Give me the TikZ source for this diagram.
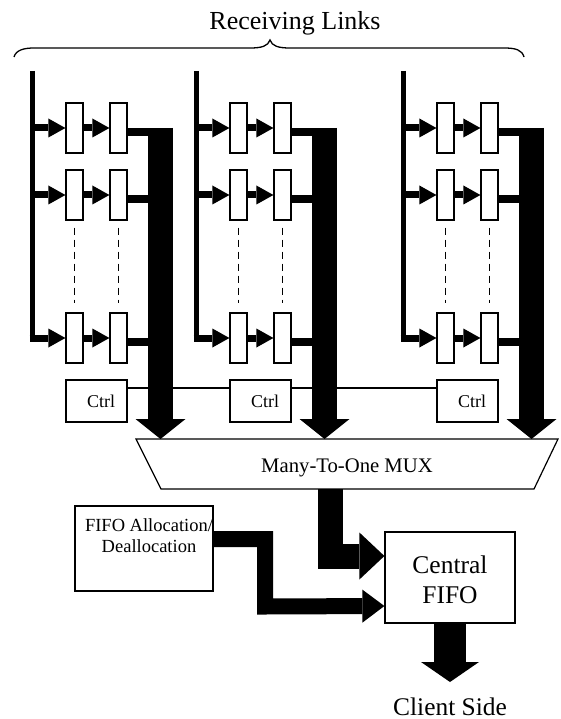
\documentclass[tikz,border=0pt]{standalone}
\usepackage{fontspec}
\setmainfont{Liberation Serif}
\usetikzlibrary{arrows.meta}
\begin{document}
\begin{tikzpicture}[x=1pt,y=-1pt,
  cell/.style={draw,line width=1.2pt,fill=white,minimum width=17pt,minimum height=50pt,inner sep=0pt},
  ctrlbox/.style={draw,line width=1.2pt,fill=white,minimum width=61pt,minimum height=42pt,inner sep=0pt,font=\fontsize{18}{20}\selectfont},
  plainbox/.style={draw,line width=1.2pt,fill=white,inner sep=0pt},
  busline/.style={line width=5pt},
  feed/.style={line width=7pt,-{Triangle[width=19pt,length=17pt,line width=0pt]}},
  tolink/.style={line width=8pt},
  thinline/.style={line width=1.2pt},
  dotsline/.style={line width=1.5pt,dash pattern=on 7pt off 5pt,shorten <=7pt,shorten >=9pt},
  fat/.style={line width=25pt,-{Triangle[width=50pt,length=20pt,line width=0pt]}},
  bigarrow/.style={line width=25pt,-{Triangle[width=47pt,length=25pt,line width=0pt]}},
  midarrow/.style={line width=16pt,-{Triangle[width=33pt,length=22pt,line width=0pt]}},
  outarrow/.style={line width=32pt,-{Triangle[width=58pt,length=20pt,line width=0pt]}},
  txt/.style={inner sep=0pt}
]
\useasboundingbox (0,0) rectangle (560,719);

% title and brace
\node[txt,font=\fontsize{26}{30}\selectfont,anchor=base] (title) at (295,30) {Receiving Links};
\draw[line width=1.3pt] (14,57) .. controls (16,50) and (24,48) .. (34,48) -- (250,48)
  .. controls (262,48) and (268,46) .. (270,40)
  .. controls (272,46) and (278,48) .. (290,48) -- (504,48)
  .. controls (516,48) and (522,50) .. (524,57);

% nodes of the three link groups
\foreach \o/\g in {0/a,164/b,371/c} {
  \node[cell] (c\g11) at (\o+74.5,128) {};
  \node[cell] (c\g12) at (\o+118.5,128) {};
  \node[cell] (c\g21) at (\o+74.5,195) {};
  \node[cell] (c\g22) at (\o+118.5,195) {};
  \node[cell] (c\g31) at (\o+74.5,338) {};
  \node[cell] (c\g32) at (\o+118.5,338) {};
  \node[ctrlbox] (ctrl\g) at (\o+96.5,401) {\hspace*{9pt}Ctrl};
  \coordinate (top\g) at (\o+32,71);
  \coordinate (bot\g) at (\o+32,341.5);
  \coordinate (cor\g) at (\o+29.5,338);
  \coordinate (bar\g) at (\o+160.5,128);
  \coordinate (j\g1) at (\o+160.5,132);
  \coordinate (j\g2) at (\o+160.5,199);
  \coordinate (j\g3) at (\o+160.5,342);
}

% ctrl chain
\draw[thinline] ([yshift=13pt]ctrla.east) -- ([yshift=13pt]ctrlb.west);
\draw[thinline] ([yshift=13pt]ctrlb.east) -- ([yshift=13pt]ctrlc.west);

% MUX
\coordinate (muxtl) at (136,439);
\coordinate (muxtr) at (558,439);
\coordinate (muxbr) at (534,489);
\coordinate (muxbl) at (161,489);
\draw[line width=1.2pt,fill=white] (muxtl) -- (muxtr) -- (muxbr) -- (muxbl) -- cycle;
\node[txt,font=\fontsize{20.7}{24}\selectfont,anchor=base] (mux) at (347,472) {Many-To-One MUX};

% connectors of the link groups
\foreach \g in {a,b,c} {
  \draw[busline] (top\g) -- (bot\g);
  \draw[feed] (top\g |- c\g11.west) -- (c\g11.west);
  \draw[feed] (top\g |- c\g21.west) -- (c\g21.west);
  \draw[feed] (cor\g) -- (c\g31.west);
  \draw[feed] (c\g11.east) -- (c\g12.west);
  \draw[feed] (c\g21.east) -- (c\g22.west);
  \draw[feed] (c\g31.east) -- (c\g32.west);
  \draw[dotsline] (c\g21.south) -- (c\g31.north);
  \draw[dotsline] (c\g22.south) -- (c\g32.north);
  \draw[tolink] ([yshift=-4pt]c\g12.east) -- (j\g1);
  \draw[tolink] ([yshift=-4pt]c\g22.east) -- (j\g2);
  \draw[tolink] ([yshift=-4pt]c\g32.east) -- (j\g3);
  \draw[fat] (bar\g) -- (bar\g |- muxtl);
}

% lower part
\node[plainbox,minimum width=130pt,minimum height=91pt] (fifo) at (450,577.5) {};
\node[txt,align=center,font=\fontsize{25.5}{30}\selectfont] (fifotext) at (450,579.5) {Central\\FIFO};
\node[plainbox,minimum width=138pt,minimum height=85pt] (alloc) at (144,548.5) {};
\node[txt,align=center,font=\fontsize{18.5}{21}\selectfont] (alloctext) at (149,536) {FIFO Allocation/\\Deallocation};

\coordinate (muxout) at (330,489);
\draw[bigarrow] (muxout) |- ([yshift=21.5pt]fifo.west);

\coordinate (abend) at (265,606.5);
\draw[midarrow] ([yshift=9.5pt]alloc.east) -| (abend) -- ([yshift=-28.5pt]fifo.west);

\coordinate (outtip) at (450,682);
\draw[outarrow] (fifo.south) -- (outtip);
\node[txt,font=\fontsize{25.4}{30}\selectfont,anchor=base] (client) at (450,715) {Client Side};
\end{tikzpicture}
\end{document}
